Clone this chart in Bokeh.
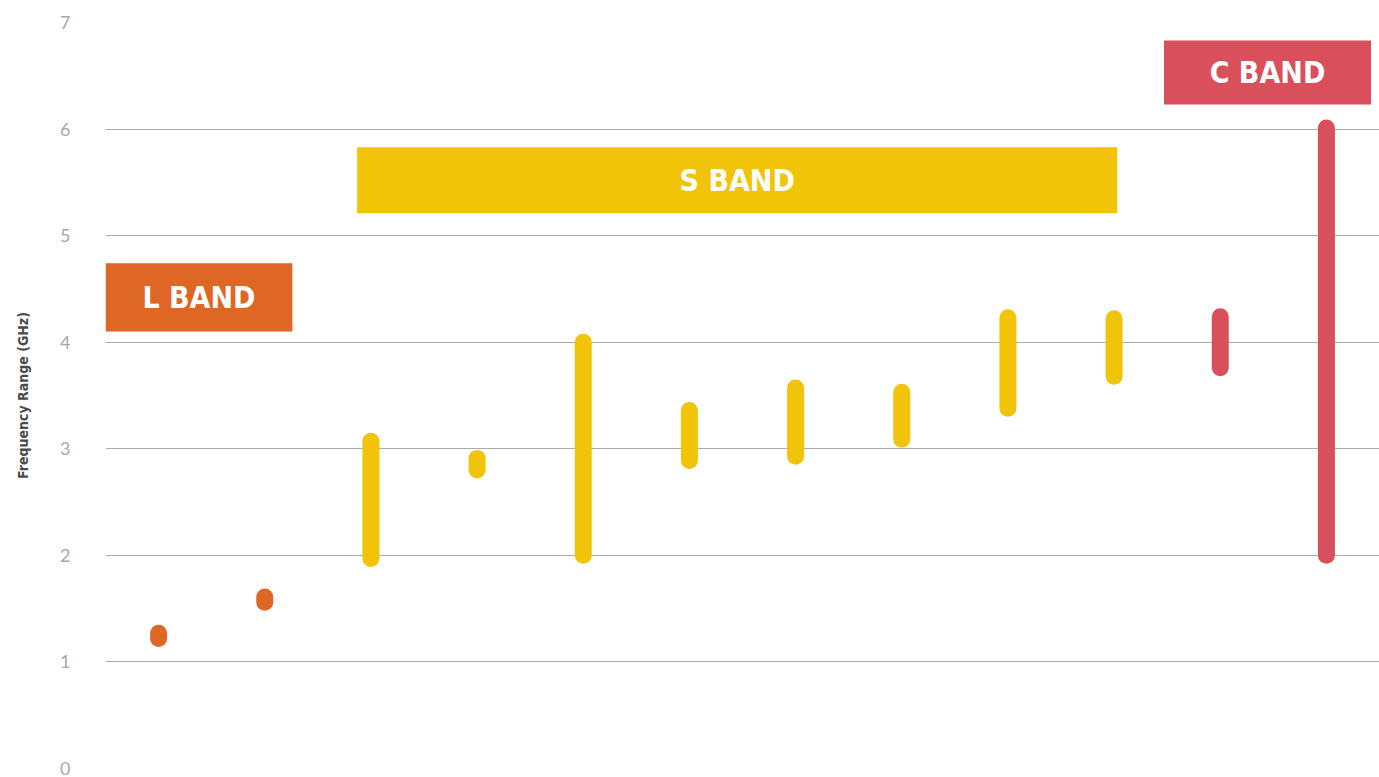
from bokeh.plotting import figure
from bokeh.models import ColumnDataSource, FixedTicker, Range1d
from bokeh.core.properties import value
from bokeh.embed import file_html
from bokeh.resources import INLINE

# ---- data ----
slots = [1, 2, 3, 4, 5, 6, 7, 8, 9, 10, 11, 12]
freq_low = [1.22, 1.56, 1.97, 2.80, 2.00, 2.89, 2.93, 3.09, 3.38, 3.68, 3.76, 2.00]
freq_high = [1.27, 1.61, 3.07, 2.91, 4.00, 3.36, 3.57, 3.53, 4.23, 4.22, 4.24, 6.01]
slot_band = ["L", "L", "S", "S", "S", "S", "S", "S", "S", "S", "C", "C"]

band_names = ["L BAND", "S BAND", "C BAND"]
band_keys = ["L", "S", "C"]
band_x0 = [0.5, 2.87, 10.47]
band_x1 = [2.26, 10.03, 12.42]
band_y0 = [4.10, 5.21, 6.23]
band_y1 = [4.74, 5.83, 6.83]

y_ticks = [0, 1, 2, 3, 4, 5, 6, 7]
y_title = "Frequency Range (GHz)"

band_colors = {"L": "#DE6726", "S": "#F1C40A", "C": "#D94F5C"}
COND = "'Liberation Sans Narrow', 'DejaVu Sans Condensed', 'Roboto Condensed', Roboto, sans-serif"

p = figure(width=1379, height=777, output_backend="svg", toolbar_location=None,
           x_range=Range1d(0.5, 12.5), y_range=Range1d(0, 7),
           min_border_left=105, min_border_right=0, min_border_top=22, min_border_bottom=9)
p.outline_line_color = None
p.background_fill_color = "white"
p.border_fill_color = "white"

p.xaxis.visible = False
p.xgrid.grid_line_color = None
p.ygrid.grid_line_color = "#ABABAB"
p.ygrid.grid_line_width = 1.2
p.ygrid.ticker = FixedTicker(ticks=y_ticks)

yax = p.yaxis[0]
yax.ticker = FixedTicker(ticks=y_ticks)
yax.axis_line_color = None
yax.major_tick_line_color = None
yax.minor_tick_line_color = None
yax.major_label_standoff = 29
yax.major_label_text_font = "Lato"
yax.major_label_text_font_size = "18px"
yax.major_label_text_color = "#A8A8A8"
yax.axis_label = y_title
yax.axis_label_text_font = COND
yax.axis_label_text_font_style = "bold"
yax.axis_label_text_font_size = "14px"
yax.axis_label_text_color = "#4A4A4A"
yax.axis_label_standoff = 26

# band boxes
bsrc = ColumnDataSource(dict(
    left=band_x0, right=band_x1, bottom=band_y0, top=band_y1,
    name=band_names,
    cx=[(a + b) / 2 for a, b in zip(band_x0, band_x1)],
    cy=[(a + b) / 2 for a, b in zip(band_y0, band_y1)],
    color=[band_colors[k] for k in band_keys],
))
p.quad(left="left", right="right", bottom="bottom", top="top", source=bsrc,
       fill_color="color", line_color=None)
p.text(x="cx", y="cy", text="name", source=bsrc, text_color="white",
       text_font=value(COND), text_font_style="bold",
       text_font_size="30px", text_align="center", text_baseline="middle")

# frequency ranges
ssrc = ColumnDataSource(dict(
    x=slots, lo=freq_low, hi=freq_high,
    color=[band_colors[b] for b in slot_band],
))
p.segment(x0="x", y0="lo", x1="x", y1="hi", source=ssrc, line_color="color",
          line_width=17, line_cap="round")

open("out.html", "w").write(file_html(p, INLINE))
